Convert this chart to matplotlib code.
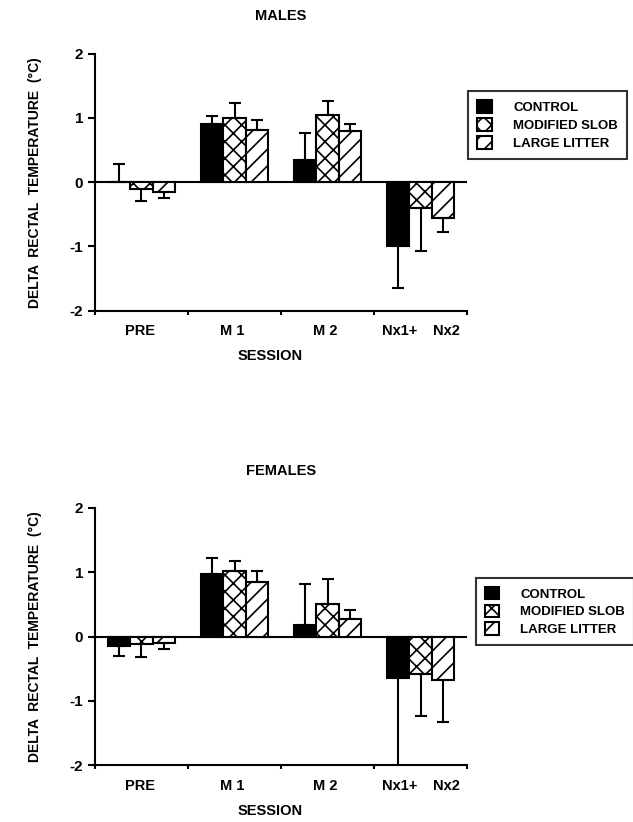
import matplotlib.pyplot as plt
import numpy as np

plt.rcParams['font.family'] = ['Liberation Sans', 'DejaVu Sans']
plt.rcParams['font.weight'] = 'bold'
plt.rcParams['hatch.linewidth'] = 1.2

# group labels and their x positions on the session axis
session_labels = ['PRE', 'M 1', 'M 2', 'Nx1+', 'Nx2']
session_label_x = [0.48, 1.48, 2.47, 3.28, 3.78]
groups = ['PRE', 'M 1', 'M 2', 'Nx']
series = ['CONTROL', 'MODIFIED SLOB', 'LARGE LITTER']

# males: means and SEM (error only drawn away from zero)
males_control = [0.0, 0.90, 0.35, -1.00]
males_slob = [-0.10, 1.00, 1.05, -0.40]
males_litter = [-0.15, 0.82, 0.80, -0.55]
males_control_err = [0.28, 0.13, 0.42, 0.65]
males_slob_err = [0.20, 0.23, 0.22, 0.67]
males_litter_err = [0.10, 0.15, 0.10, 0.23]

# females
females_control = [-0.15, 0.98, 0.18, -0.65]
females_slob = [-0.12, 1.02, 0.50, -0.58]
females_litter = [-0.10, 0.85, 0.28, -0.68]
females_control_err = [0.15, 0.24, 0.64, 1.40]
females_slob_err = [0.20, 0.15, 0.40, 0.65]
females_litter_err = [0.10, 0.17, 0.14, 0.65]

hatches = [None, 'xx', '//']
colors = ['black', 'white', 'white']
width = 0.242


def draw_panel(ax, title, vals, errs, legend_anchor):
    x = np.arange(len(groups)) + 0.5
    handles = []
    for i, (v, e) in enumerate(zip(vals, errs)):
        pos = x + (i - 1) * width
        v = np.array(v)
        e = np.array(e)
        lower = np.where(v < 0, e, 0)
        upper = np.where(v >= 0, e, 0)
        b = ax.bar(pos, v, width, color=colors[i], edgecolor='black',
                   linewidth=1.5, hatch=hatches[i], zorder=2)
        ax.errorbar(pos, v, yerr=[lower, upper], fmt='none', ecolor='black',
                    elinewidth=1.5, capsize=4, capthick=1.5, zorder=3)
        handles.append(b)
    ax.axhline(0, color='black', lw=1.5, zorder=1)
    ax.set_xlim(0, 4)
    ax.set_ylim(-2, 2)
    ax.set_yticks([-2, -1, 0, 1, 2])
    ax.set_yticklabels(['-2', '-1', '0', '1', '2'], fontweight='bold', fontsize=11)
    ax.set_xticks([0, 1, 2, 3, 4])
    ax.set_xticklabels([])
    ax.tick_params(axis='x', length=3, width=1.5)
    ax.tick_params(axis='y', length=5, width=1.5)
    for s in ['top', 'right']:
        ax.spines[s].set_visible(False)
    for s in ['left', 'bottom']:
        ax.spines[s].set_linewidth(1.5)
    for lx, lab in zip(session_label_x, session_labels):
        ax.text(lx, -2.32, lab, ha='center', va='center', fontsize=10.5,
                fontweight='bold')
    ax.text(1.88, -2.71, 'SESSION', ha='center', va='center', fontsize=10.5,
            fontweight='bold')
    ax.set_title(title, fontsize=10.5, fontweight='bold', pad=24)
    ax.set_ylabel('DELTA  RECTAL  TEMPERATURE  (°C)', fontsize=10,
                  fontweight='bold', labelpad=20)
    leg = ax.legend(handles, series, loc='upper left', bbox_to_anchor=legend_anchor,
                    frameon=True, fancybox=False, edgecolor='black',
                    fontsize=9.5, handlelength=1.1, handleheight=1.1,
                    borderpad=0.7, labelspacing=0.3, handletextpad=1.6)
    leg.get_frame().set_linewidth(1.5)
    for t in leg.get_texts():
        t.set_fontweight('bold')


fig = plt.figure(figsize=(6.33, 8.22), dpi=100)
ax1 = fig.add_axes([0.150, 0.622, 0.588, 0.3127])
ax2 = fig.add_axes([0.150, 0.0693, 0.588, 0.3127])

draw_panel(ax1, 'MALES', [males_control, males_slob, males_litter],
           [males_control_err, males_slob_err, males_litter_err], (0.985, 0.88))
draw_panel(ax2, 'FEMALES', [females_control, females_slob, females_litter],
           [females_control_err, females_slob_err, females_litter_err], (1.005, 0.755))

fig.savefig('out.png', dpi=100)
